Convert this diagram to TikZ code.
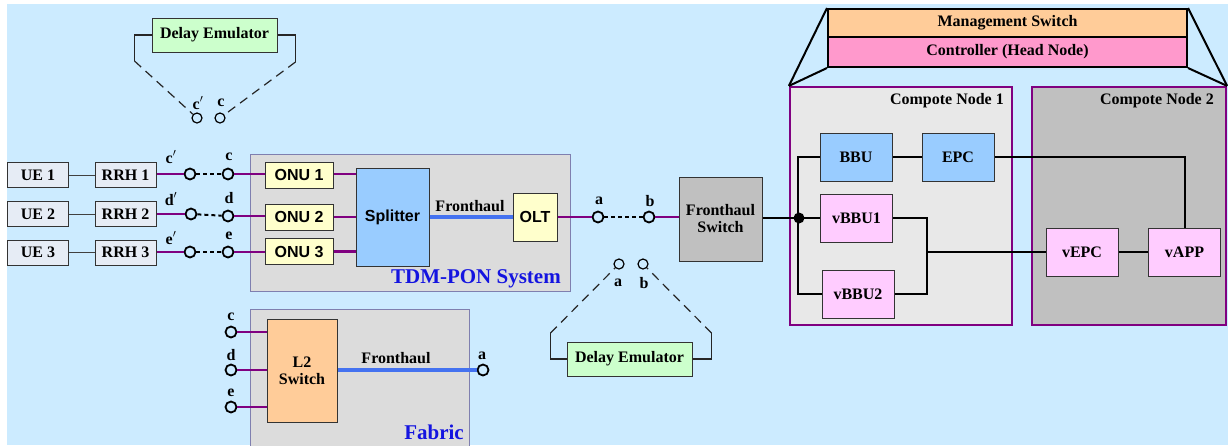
\documentclass[tikz,border=0pt]{standalone}
\usepackage{fontspec}
\setmainfont{Liberation Serif}
\setsansfont{Liberation Sans}
\definecolor{bgblue}{HTML}{CCEBFF}
\definecolor{uefill}{HTML}{E6ECF5}
\definecolor{onufill}{HTML}{FFFFCC}
\definecolor{bbufill}{HTML}{99CCFF}
\definecolor{panel}{HTML}{DCDCDC}
\definecolor{panelline}{HTML}{7F7FAF}
\definecolor{swgray}{HTML}{C0C0C0}
\definecolor{defill}{HTML}{CCFFCC}
\definecolor{orangefill}{HTML}{FFCC99}
\definecolor{ctrlfill}{HTML}{FF99CC}
\definecolor{cnone}{HTML}{E8E8E8}
\definecolor{cntwo}{HTML}{C0C0C0}
\definecolor{vfill}{HTML}{FFCCFF}
\definecolor{lnpurple}{HTML}{800080}
\definecolor{fhblue}{HTML}{4472F0}
\definecolor{titleblue}{HTML}{1414E0}
\begin{document}
\begin{tikzpicture}[x=1pt,y=-1pt,
  lbl/.style={font=\fontsize{16}{17}\selectfont\bfseries, inner sep=0pt},
  box/.style={draw=black!80, line width=1pt, inner sep=0pt, align=center,
    font=\fontsize{16}{17}\selectfont\bfseries},
  sbox/.style={box, font=\fontsize{16}{17}\selectfont\sffamily\bfseries},
  uebox/.style={box, fill=uefill, minimum width=61, minimum height=25},
  onubox/.style={sbox, fill=onufill, minimum width=68, minimum height=26},
  vbox/.style={box, fill=vfill, minimum width=72, minimum height=48},
  debox/.style={box, fill=defill, minimum width=125, minimum height=34},
  panelbox/.style={draw=panelline, line width=1pt, fill=panel, inner sep=0pt},
  cnbox/.style={draw=lnpurple, line width=2.2pt, inner sep=0pt},
  port/.style={circle, draw=black, line width=1.8pt, minimum size=11pt, inner sep=0pt},
  pline/.style={draw=lnpurple, line width=2.4pt},
  fhline/.style={draw=fhblue, line width=3.2pt},
  gapline/.style={draw=black, line width=2pt, dash pattern=on 4pt off 3pt},
  emuline/.style={draw=black!85, line width=1.2pt},
  emudash/.style={emuline, dash pattern=on 9pt off 6pt},
  conn/.style={draw=black, line width=2pt},
  thin/.style={draw=black!75, line width=1pt},
  title/.style={text=titleblue, font=\fontsize{21}{22}\selectfont\bfseries, inner sep=0pt}
]
\useasboundingbox (0,0) rectangle (1228,445);
\fill[bgblue] (7,4) rectangle (1228,445);

% ---------- containers ----------
\node[panelbox, minimum width=320, minimum height=137] (tdm) at (410,222.5) {};
\node[panelbox, minimum width=219, minimum height=151] (fab) at (359.5,384.5) {};
\node[cnbox, fill=cnone, minimum width=222, minimum height=238] (cn1) at (901,206) {};
\node[cnbox, fill=cntwo, minimum width=194, minimum height=238] (cn2) at (1129,206) {};
\node[title, anchor=east] (tdmlbl) at (561,279) {TDM-PON System};
\node[title, anchor=east] (fablbl) at (464,432) {Fabric};
\node[lbl, anchor=east] (cn1lbl) at (1004,101) {Compote Node 1};
\node[lbl, anchor=east] (cn2lbl) at (1214,101) {Compote Node 2};

% ---------- head node ----------
\node[box, line width=2pt, draw=black, fill=orangefill, minimum width=359, minimum height=28] (mgmt) at (1007.5,23) {Management Switch};
\node[box, line width=2pt, draw=black, fill=ctrlfill, minimum width=359, minimum height=30] (ctrl) at (1007.5,52) {Controller (Head Node)};
\draw[conn] (mgmt.north west) -- (cn1.north west);
\draw[conn] (ctrl.south west) -- (cn1.north west);
\draw[conn] (mgmt.north east) -- (cn2.north east);
\draw[conn] (ctrl.south east) -- (cn2.north east);

% ---------- user side ----------
\node[uebox] (ue1) at (38,175) {UE 1};
\node[uebox] (ue2) at (38,214) {UE 2};
\node[uebox] (ue3) at (38,252.5) {UE 3};
\node[uebox] (rrh1) at (125.5,175) {RRH 1};
\node[uebox] (rrh2) at (125.5,214) {RRH 2};
\node[uebox] (rrh3) at (125.5,252.5) {RRH 3};
\draw[thin] (ue1) -- (rrh1);
\draw[thin] (ue2) -- (rrh2);
\draw[thin] (ue3) -- (rrh3);

\node[port] (p1l) at (190,174) {};
\node[port] (p1r) at (228,174) {};
\node[port] (p2l) at (191,214) {};
\node[port] (p2r) at (228,216) {};
\node[port] (p3l) at (190,252) {};
\node[port] (p3r) at (228,252) {};
\node[lbl] (l1l) at (171,157) {c$^{\prime}$};
\node[lbl] (l1r) at (229,157) {c};
\node[lbl] (l2l) at (171,199) {d$^{\prime}$};
\node[lbl] (l2r) at (229,198) {d};
\node[lbl] (l3l) at (171,238) {e$^{\prime}$};
\node[lbl] (l3r) at (229,236) {e};

\node[onubox] (onu1) at (299,175) {ONU 1};
\node[onubox] (onu2) at (299,217) {ONU 2};
\node[onubox] (onu3) at (299,251.5) {ONU 3};

\draw[pline] (rrh1.east |- p1l) -- (p1l);
\draw[pline] (rrh2.east |- p2l) -- (p2l);
\draw[pline] (rrh3.east |- p3l) -- (p3l);
\draw[gapline] (p1l) -- (p1r);
\draw[gapline] (p2l) -- (p2r);
\draw[gapline] (p3l) -- (p3r);
\draw[pline] (p1r) -- (p1r -| onu1.west);
\draw[pline] (p2r) -- (p2r -| onu2.west);
\draw[pline] (p3r) -- (p3r -| onu3.west);

% ---------- TDM-PON ----------
\node[sbox, fill=bbufill, minimum width=73, minimum height=98] (split) at (392.5,217) {Splitter};
\node[sbox, fill=onufill, minimum width=44, minimum height=48] (olt) at (535,217) {OLT};
\draw[pline] (onu1.east |- p1r) -- (split.west |- p1r);
\draw[pline] (onu2.east) -- (split.west |- onu2.east);
\draw[pline] (onu3.east) -- (split.west |- onu3.east);
\draw[fhline] (split) -- (olt);
\node[lbl] (fh1) at (470,206) {Fronthaul};

\node[port] (pa) at (598,217) {};
\node[port] (pb) at (649,217) {};
\node[lbl] (la) at (599,201) {a};
\node[lbl] (lb) at (650,201) {b};
\draw[pline] (olt) -- (pa);
\draw[gapline] (pa) -- (pb);
\node[box, fill=swgray, minimum width=83, minimum height=84] (fsw) at (720.5,219) {Fronthaul\\Switch};
\draw[pline] (pb) -- (pb -| fsw.west);

% ---------- upper delay emulator (c', c) ----------
\node[debox] (de1) at (214.5,35) {Delay Emulator};
\node[port, line width=1.2pt, minimum size=10pt] (qc1) at (197,118) {};
\node[port, line width=1.2pt, minimum size=10pt] (qc2) at (220,118) {};
\node[lbl] (lq1) at (198,103) {c$^{\prime}$};
\node[lbl] (lq2) at (221,103) {c};
\draw[emuline] (de1.west) -- ++(-17,0) -- ++(0,26) coordinate (k1);
\draw[emudash] (k1) -- (qc1);
\draw[emuline] (de1.east) -- ++(18,0) -- ++(0,27) coordinate (k2);
\draw[emudash] (k2) -- (qc2);

% ---------- lower delay emulator (a, b) ----------
\node[debox] (de2) at (629.5,359) {Delay Emulator};
\node[port, line width=1.2pt, minimum size=10pt] (qa) at (619,264) {};
\node[port, line width=1.2pt, minimum size=10pt] (qb) at (643,264) {};
\node[lbl] (lqa) at (618,283) {a};
\node[lbl] (lqb) at (644,283) {b};
\draw[emuline] (de2.west) -- ++(-16,0) -- ++(0,-26) coordinate (k3);
\draw[emudash] (k3) -- (qa);
\draw[emuline] (de2.east) -- ++(19,0) -- ++(0,-26) coordinate (k4);
\draw[emudash] (k4) -- (qb);

% ---------- fabric ----------
\node[box, fill=orangefill, minimum width=70, minimum height=103] (l2) at (302,370.5) {L2\\Switch};
\node[port] (fc) at (231,332) {};
\node[port] (fd) at (231,370) {};
\node[port] (fe) at (231,407) {};
\node[port] (fa) at (483,370) {};
\node[lbl] (lfc) at (231,317) {c};
\node[lbl] (lfd) at (231,355) {d};
\node[lbl] (lfe) at (231,393) {e};
\node[lbl] (lfa) at (482,356) {a};
\draw[pline] (fc) -- (fc -| l2.west);
\draw[pline] (fd) -- (fd -| l2.west);
\draw[pline] (fe) -- (fe -| l2.west);
\draw[fhline] (l2.east |- fa) -- (fa);
\node[lbl] (fh2) at (396,358) {Fronthaul};

% ---------- compute nodes ----------
\node[box, fill=bbufill, minimum width=72, minimum height=48] (bbu) at (856,157) {BBU};
\node[box, fill=bbufill, minimum width=72, minimum height=48] (epc) at (958,157) {EPC};
\node[vbox] (vbbu1) at (856.5,218) {vBBU1};
\node[vbox] (vbbu2) at (858,294) {vBBU2};
\node[vbox] (vepc) at (1082,252) {vEPC};
\node[vbox] (vapp) at (1184.5,252) {vAPP};
\coordinate (dot) at (799,218);

\draw[conn] (fsw.east |- dot) -- (dot);
\draw[conn] (bbu.west) -- ++(-22,0) |- (vbbu2.west);
\draw[conn] (dot) -- (vbbu1.west);
\fill[black] (dot) circle (5.5);
\draw[conn] (bbu) -- (epc);
\draw[conn] (epc.east) -| (vapp.north);
\draw[conn] (vbbu1.east) -- ++(34,0) coordinate (m1) |- (vbbu2.east);
\draw[conn] (m1 |- vepc.west) -- (vepc.west);
\draw[conn] (vepc) -- (vapp);
\end{tikzpicture}
\end{document}
